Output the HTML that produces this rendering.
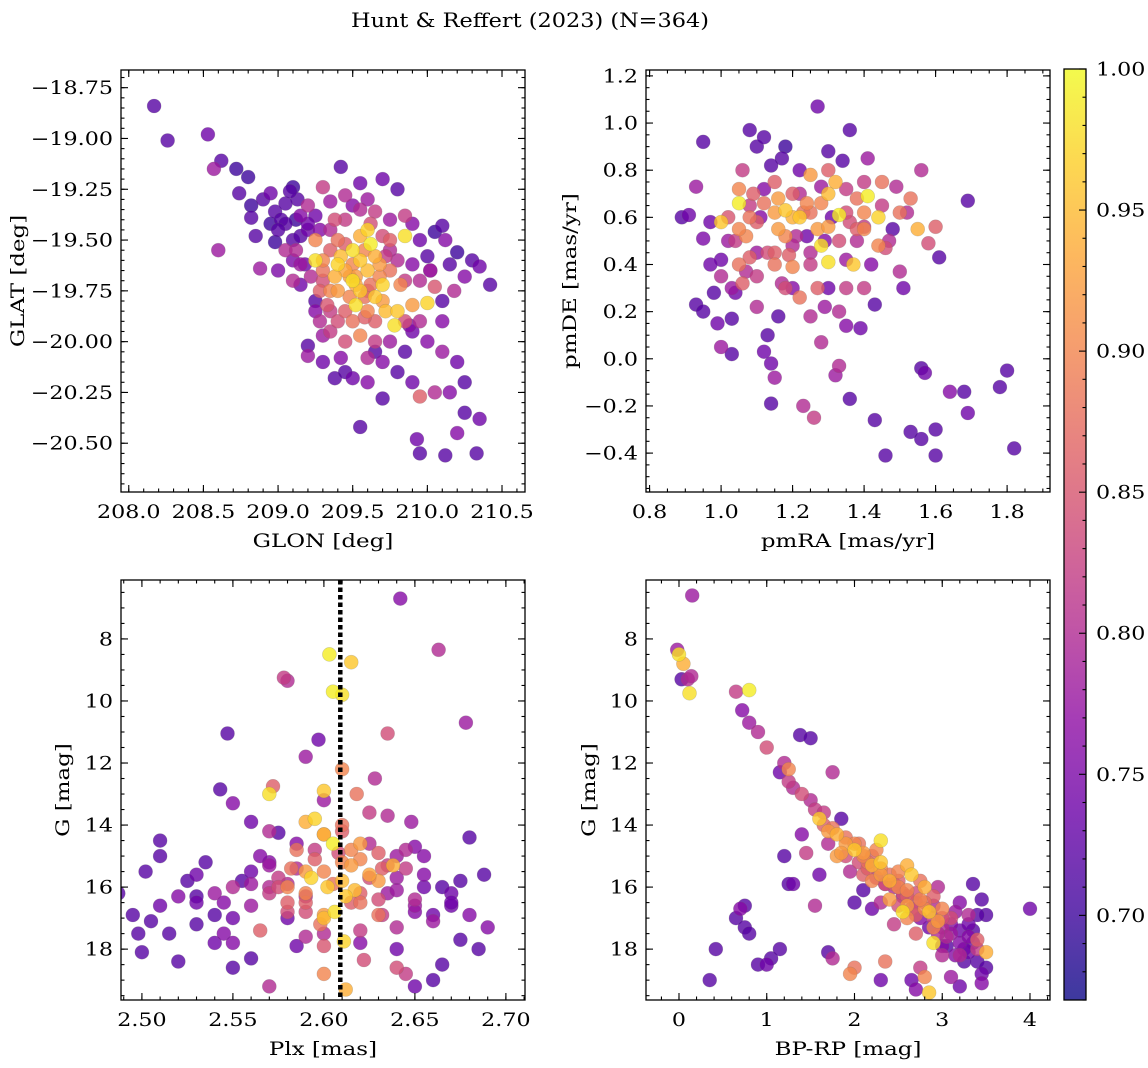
<!DOCTYPE html>
<html><head><meta charset="utf-8">
<style>
html,body{margin:0;padding:0;background:#fff;}
svg{display:block;font-family:"DejaVu Serif","Liberation Serif",serif;}
</style></head>
<body>
<svg id="fig" width="1148" height="1068" viewBox="0 0 1148 1068" xmlns="http://www.w3.org/2000/svg">
<defs>
<linearGradient id="cbgrad" x1="0" y1="1" x2="0" y2="0">
</linearGradient>
</defs>
<text id="title" x="530" y="27" text-anchor="middle" font-size="20">Hunt &amp; Reffert (2023) (N=364)</text>
<g id="root"></g>
</svg>
<script>
// ---- Panel 1 data: GLON, GLAT, probability ----
const p1Glon=[208.17,208.26,208.53,208.57,208.62,208.72,208.74,208.8,208.82,208.85,208.6,208.82,208.95,208.98,208.98,209.02,208.88,209.0,209.1,209.13,209.15,209.1,209.2,209.2,209.25,209.3,209.35,209.42,209.38,209.45,209.5,209.55,209.6,209.65,209.7,209.75,209.8,209.85,209.9,209.95,210.05,210.1,210.12,210.15,210.2,210.3,210.35,210.42,210.25,210.18,210.1,210.05,210.0,209.95,209.9,210.0,210.1,210.2,210.25,210.15,210.05,209.95,209.9,209.8,210.25,210.35,210.2,209.93,209.95,210.12,210.33,209.55,209.7,209.6,209.5,209.38,209.42,209.2,209.2,209.3,209.45,209.55,209.65,209.7,209.65,209.28,209.35,209.25,209.15,209.22,209.1,209.05,209.5,209.55,209.6,209.45,209.5,209.62,209.65,209.4,209.55,209.6,209.7,209.75,209.3,209.25,209.35,209.3,209.4,209.75,209.8,209.85,209.8,209.78,209.9,209.45,209.5,209.55,209.6,209.5,209.25,209.4,209.85,209.7,209.65,209.35,209.45,209.6,209.05,209.12,209.18,209.28,209.48,209.58,209.72,209.88,210.02,209.33,209.52,209.68,
209.3,209.35,209.42,209.48,209.52,209.58,209.62,209.68,209.72,209.58,209.4,209.35,209.2,209.15,209.0,208.95,209.05,209.12,209.28,209.55,209.62,209.75,209.9,210.0,210.02,209.95,209.85,209.75,209.6,209.45,209.3,209.85,210.1,209.15,209.1,208.9,209.08,209.45,209.7,209.38,209.65,209.52,209.82,209.25];
const p1Glat=[-18.84,-19.01,-18.98,-19.15,-19.11,-19.15,-19.27,-19.19,-19.33,-19.48,-19.55,-19.39,-19.27,-19.36,-19.51,-19.4,-19.64,-19.65,-19.24,-19.3,-19.38,-19.5,-19.45,-19.33,-19.38,-19.24,-19.31,-19.14,-19.4,-19.28,-19.33,-19.22,-19.3,-19.36,-19.2,-19.4,-19.25,-19.38,-19.42,-19.5,-19.46,-19.43,-19.5,-19.62,-19.56,-19.6,-19.63,-19.72,-19.68,-19.75,-19.8,-19.73,-19.81,-19.9,-19.95,-20.0,-20.05,-20.1,-20.2,-20.25,-20.25,-20.27,-20.2,-20.15,-20.35,-20.38,-20.45,-20.48,-20.55,-20.56,-20.55,-20.42,-20.28,-20.2,-20.18,-20.18,-20.08,-20.07,-20.02,-19.97,-20.0,-19.97,-20.0,-20.1,-20.05,-19.9,-19.85,-19.8,-19.72,-19.68,-19.6,-19.55,-19.55,-19.6,-19.65,-19.65,-19.7,-19.52,-19.58,-19.75,-19.75,-19.85,-19.8,-19.65,-19.6,-19.5,-19.55,-19.7,-19.5,-19.5,-19.6,-19.7,-19.85,-19.92,-19.82,-19.85,-19.9,-19.48,-19.45,-19.62,-19.6,-19.62,-19.48,-19.72,-19.9,-19.45,-19.4,-19.75,-19.42,-19.55,-19.62,-19.75,-19.68,-19.78,-19.58,-19.92,-19.65,-19.82,-19.72,-19.68,
-19.65,-19.75,-19.58,-19.78,-19.68,-19.55,-19.72,-19.62,-19.85,-19.88,-19.9,-19.95,-19.42,-19.48,-19.45,-19.42,-19.32,-19.4,-19.45,-19.35,-19.42,-19.55,-19.62,-19.58,-19.65,-19.7,-19.9,-20.0,-20.08,-20.15,-20.1,-20.05,-19.9,-19.62,-19.7,-19.3,-19.26,-19.52,-19.48,-19.68,-19.78,-19.82,-19.72,-19.85];
const p1Prob=[.72,.72,.74,.78,.72,.70,.72,.70,.70,.72,.78,.72,.74,.72,.70,.72,.78,.75,.70,.72,.76,.72,.74,.8,.74,.82,.78,.72,.84,.8,.76,.74,.78,.82,.74,.78,.72,.82,.76,.74,.7,.72,.76,.72,.7,.72,.74,.72,.76,.8,.72,.85,.97,.8,.74,.76,.78,.74,.72,.76,.8,.86,.74,.72,.72,.74,.76,.74,.72,.72,.72,.72,.72,.76,.74,.72,.76,.78,.72,.78,.84,.9,.82,.76,.72,.8,.82,.72,.74,.8,.75,.8,.98,.96,.95,.93,.98,.99,.94,.92,.96,.9,.92,.88,.9,.9,.86,.84,.88,.86,.8,.82,.96,.98,.92,.86,.88,.94,.97,.9,.98,.97,.98,.97,.86,.8,.82,.84,.72,.8,.74,.86,.92,.88,.82,.76,.78,.85,.93,.9,
.88,.9,.95,.9,.92,.9,.88,.92,.95,.86,.84,.82,.74,.72,.72,.7,.72,.7,.76,.8,.84,.8,.76,.72,.78,.8,.84,.78,.8,.72,.74,.72,.76,.78,.8,.72,.72,.86,.84,.94,.96,.98,.9,.76];

// ---- Panel 2 data: pmRA, pmDE, probability ----
const p2Pmra=[0.89,0.91,0.93,0.95,0.93,0.95,0.95,0.97,0.98,0.99,1.0,1.0,1.0,1.02,1.03,1.03,1.04,1.04,1.05,1.06,1.07,1.08,1.08,1.09,1.1,1.1,1.11,1.12,1.12,1.13,1.14,1.15,1.14,1.15,1.16,1.17,1.18,1.18,1.19,1.2,1.21,1.22,1.22,1.23,1.24,1.25,1.26,1.27,1.27,1.28,1.28,1.29,1.3,1.3,1.31,1.32,1.33,1.33,1.34,1.35,1.35,1.36,1.36,1.37,1.38,1.39,1.4,1.41,1.41,1.42,1.43,1.43,1.44,1.45,1.46,1.47,1.49,1.5,1.51,1.53,1.53,1.55,1.56,1.56,1.57,1.56,1.58,1.6,1.6,1.6,1.61,1.64,1.68,1.69,1.69,1.78,1.8,1.82,1.5,1.46,1.05,1.12,1.15,1.25,1.32,1.38,1.2,1.27,1.17,1.1,1.07,1.25,1.3,1.22,1.18,1.14,1.33,1.08,1.2,1.28,1.35,0.97,1.02,1.13,1.23,1.29,1.4,1.44,1.52,1.06,1.16,1.36,
1.05,1.1,1.15,1.2,1.25,1.3,1.35,1.4,1.45,1.15,1.25,1.35,1.1,1.2,1.3,1.4,1.05,1.22,1.12,1.3,1.4,1.48,1.03,1.16,1.33,1.0,1.18,1.28,1.38,1.08,1.24,1.44];
const p2Pmde=[0.6,0.61,0.73,0.92,0.23,0.2,0.51,0.58,0.28,0.15,0.05,0.35,0.42,0.6,0.02,0.17,0.28,0.5,0.66,0.8,0.37,0.6,0.97,0.7,0.45,0.9,0.6,0.94,0.03,0.1,-0.02,-0.08,-0.19,0.4,0.55,0.85,0.63,0.3,0.44,0.7,0.52,0.26,0.6,-0.2,0.66,0.4,-0.25,1.07,0.55,0.73,0.07,0.22,0.88,0.41,0.6,-0.07,-0.03,0.61,0.84,0.72,0.3,0.97,-0.17,0.4,0.5,0.13,0.62,0.69,0.85,0.4,0.23,-0.26,0.6,0.75,-0.41,0.5,0.73,0.62,0.3,0.68,-0.31,0.55,0.8,-0.04,-0.06,-0.34,0.49,-0.41,0.56,-0.3,0.43,-0.14,-0.14,-0.23,0.67,-0.12,-0.05,-0.38,0.37,0.47,0.72,0.66,0.75,0.78,0.75,0.55,0.48,0.3,0.32,0.22,0.52,0.18,0.7,0.8,0.9,0.82,0.5,0.43,0.39,0.48,0.14,0.4,0.5,0.45,0.62,0.5,0.56,0.48,0.62,0.32,0.68,0.58,
0.55,0.58,0.62,0.6,0.62,0.56,0.62,0.55,0.65,0.45,0.45,0.42,0.35,0.3,0.3,0.3,0.4,0.7,0.72,0.8,0.75,0.55,0.3,0.18,0.2,0.58,0.52,0.66,0.68,0.65,0.52,0.4];
const p2Prob=[.72,.74,.78,.72,.72,.72,.75,.74,.72,.74,.78,.8,.74,.85,.72,.72,.74,.82,.99,.82,.8,.88,.72,.86,.78,.72,.76,.72,.74,.72,.74,.78,.72,.88,.92,.72,.96,.84,.86,.86,.8,.88,.96,.8,.9,.82,.82,.74,.92,.78,.8,.78,.72,.98,.74,.78,.8,.99,.72,.82,.82,.72,.72,.96,.8,.74,.9,.99,.78,.76,.72,.72,.97,.88,.72,.8,.8,.88,.74,.88,.72,.94,.8,.72,.74,.72,.84,.72,.86,.72,.72,.76,.72,.74,.72,.72,.72,.72,.8,.84,.9,.88,.86,.92,.94,.86,.8,.86,.8,.8,.9,.8,.95,.74,.7,.72,.84,.86,.9,.98,.76,.74,.78,.84,.88,.76,.82,.9,.8,.86,.92,
.84,.9,.86,.92,.94,.88,.92,.84,.9,.82,.86,.8,.78,.82,.76,.74,.82,.88,.8,.76,.86,.82,.72,.78,.72,.8,.96,.9,.9,.88,.82,.74];

// ---- Panel 3 data: Plx, G, probability ----
const p3Plx=[2.487,2.495,2.498,2.5,2.502,2.505,2.51,2.51,2.51,2.515,2.52,2.52,2.525,2.53,2.53,2.535,2.54,2.54,2.543,2.547,2.55,2.55,2.55,2.555,2.56,2.56,2.565,2.57,2.57,2.572,2.575,2.578,2.58,2.58,2.582,2.585,2.585,2.59,2.59,2.59,2.593,2.595,2.597,2.598,2.6,2.6,2.602,2.603,2.605,2.606,2.608,2.61,2.61,2.611,2.612,2.615,2.615,2.618,2.62,2.622,2.625,2.628,2.63,2.632,2.635,2.635,2.638,2.64,2.642,2.645,2.648,2.65,2.655,2.66,2.663,2.665,2.67,2.675,2.678,2.68,2.68,2.685,2.688,2.69,2.66,2.65,2.64,2.57,2.55,2.545,2.6,2.61,2.59,2.62,2.63,2.58,2.57,2.6,2.61,2.62,2.59,2.64,2.65,2.56,2.6,2.58,2.63,2.6,2.595,2.605,2.617,2.625,2.565,2.575,2.585,2.615,2.635,2.645,2.655,2.67,2.53,2.545,2.6,2.57,2.62,2.64,
2.56,2.57,2.575,2.58,2.585,2.59,2.595,2.6,2.605,2.61,2.615,2.62,2.625,2.63,2.635,2.64,2.645,2.65,2.655,2.66,2.57,2.58,2.6,2.62,2.64,2.55,2.54,2.53,2.665,2.67,2.675,2.59,2.61,2.625,2.56,2.65,2.6,2.612,2.59,2.632];
const p3G=[16.2,16.9,17.5,18.1,15.5,17.1,14.5,15.0,16.6,17.5,16.3,18.4,15.8,16.5,17.2,15.2,16.2,17.8,12.85,11.05,13.3,16.0,17.0,15.8,16.6,18.3,17.4,16.2,13.0,12.75,14.25,9.25,9.35,16.8,15.4,14.6,17.9,11.8,13.9,16.3,15.7,14.8,11.25,17.2,13.2,18.8,16.0,8.5,9.7,16.8,14.9,9.8,12.2,17.75,19.3,8.75,15.3,13.0,16.2,18.35,14.6,12.5,15.8,16.9,11.05,13.7,15.3,17.3,6.7,18.8,13.9,16.4,15.0,17.1,8.35,18.5,16.2,17.7,10.7,14.4,16.9,18.0,15.6,17.3,19.0,19.2,18.6,19.2,18.6,17.5,15.5,15.8,16.5,15.1,16.4,15.9,15.2,14.3,14.0,17.4,17.6,15.7,16.8,15.5,17.0,16.0,14.9,12.9,13.8,14.6,16.1,15.6,15.0,16.0,15.4,14.8,16.2,15.4,16.0,16.6,16.3,16.5,17.9,14.2,16.5,15.0,15.9,
16.0,15.7,16.5,14.8,16.2,15.1,16.9,15.9,15.2,16.5,14.6,15.7,16.9,15.3,16.1,14.8,16.6,15.6,16.9,15.3,17.0,17.5,17.8,18.0,17.8,16.9,15.6,16.0,16.5,15.8,16.8,14.2,13.6,13.9,14.7,14.3,16.3,15.5,15.4,16.4];
const p3Prob=[.72,.72,.72,.72,.72,.72,.72,.72,.74,.72,.76,.72,.72,.74,.72,.72,.78,.74,.72,.72,.76,.8,.74,.72,.78,.72,.86,.82,.98,.86,.72,.82,.8,.84,.88,.76,.74,.78,.94,.8,.97,.82,.74,.88,.78,.9,.96,.99,.99,.98,.84,.98,.9,.97,.94,.96,.92,.88,.86,.84,.8,.8,.92,.82,.84,.8,.94,.8,.76,.82,.78,.8,.76,.78,.8,.72,.74,.72,.78,.72,.76,.72,.72,.76,.72,.74,.84,.8,.72,.76,.9,.95,.86,.9,.84,.8,.76,.92,.88,.82,.8,.78,.76,.74,.95,.9,.86,.96,.97,.99,.95,.93,.76,.84,.8,.9,.78,.82,.74,.74,.72,.76,.85,.8,.88,.78,
.78,.8,.82,.86,.88,.9,.86,.92,.88,.9,.86,.92,.84,.88,.82,.78,.8,.78,.76,.74,.78,.74,.8,.76,.74,.76,.72,.74,.72,.74,.72,.84,.86,.82,.74,.76,.94,.96,.92,.86];

// ---- Panel 4 data: BP-RP, G, probability ----
const p4Bprp=[-0.02,0.0,0.05,0.1,0.12,0.14,0.15,0.03,0.65,0.8,0.72,0.8,0.9,1.0,1.2,1.25,1.25,1.3,1.38,1.5,1.4,1.5,1.55,1.6,1.65,1.7,1.75,1.8,1.9,2.0,2.1,2.2,2.3,2.4,2.5,2.6,2.7,2.8,2.9,3.0,3.1,3.2,3.3,3.4,3.45,3.5,3.5,3.45,3.35,4.0,1.6,1.55,1.3,1.25,0.75,0.65,0.7,0.75,0.8,0.42,0.35,0.9,1.0,1.05,1.15,1.7,1.75,1.95,2.0,2.35,2.3,2.65,2.75,2.8,2.85,2.7,2.9,3.0,3.1,3.2,2.0,2.2,2.1,2.3,2.45,2.6,2.7,2.8,2.65,2.55,2.9,3.0,3.1,3.2,3.3,3.35,3.4,3.25,2.4,2.2,2.1,1.9,1.95,2.05,2.25,2.3,2.5,2.75,2.85,2.95,3.05,1.4,1.45,1.2,1.7,1.8,1.85,1.15,2.3,2.6,2.5,3.2,3.35,3.4,3.5,3.45,2.15,2.45,2.55,2.75,2.95,3.15,1.85,2.35,2.7,3.0,
1.9,2.0,2.1,2.2,2.3,2.4,2.5,2.6,2.7,2.8,2.9,3.0,3.1,3.2,3.3,2.45,2.55,2.65,2.75,2.85,2.95,3.05,3.15,3.25,2.35,2.25,2.15,2.05,1.75,1.65,2.6,2.9,3.3,3.4];
const p4G=[8.35,8.5,8.8,9.3,9.75,9.2,6.6,9.3,9.7,9.65,10.3,10.7,11.0,11.5,12.0,12.2,12.6,12.8,11.1,11.2,13.0,13.2,13.5,13.8,14.0,14.2,12.3,14.3,14.6,14.8,15.0,15.3,15.6,15.8,16.0,16.3,16.5,16.7,17.0,17.3,17.5,17.8,18.1,18.4,18.8,18.6,16.9,16.4,15.9,16.7,15.6,16.6,15.9,15.9,16.6,17.0,16.7,17.3,17.5,18.0,19.0,18.5,18.5,18.3,18.0,18.1,18.3,18.8,18.6,18.4,19.0,19.0,18.6,18.9,19.4,19.3,17.8,18.2,18.9,19.2,16.5,16.7,16.1,16.5,17.2,17.0,17.5,16.0,15.6,16.8,16.3,16.7,17.0,16.5,16.9,17.4,17.7,18.4,16.4,15.8,15.6,15.0,15.5,14.6,14.8,15.2,15.5,15.8,16.8,17.1,17.6,14.3,14.9,15.0,14.6,15.0,13.8,12.3,14.5,15.3,16.6,18.2,17.8,18.0,18.1,19.1,15.2,15.9,16.2,16.4,16.0,16.8,14.9,15.9,16.9,17.9,
14.4,14.6,14.9,15.0,15.4,15.6,15.8,16.1,16.2,16.5,16.6,17.0,17.2,17.4,17.6,16.0,16.3,16.7,17.0,17.3,17.5,17.9,18.2,18.0,15.9,15.7,15.4,15.2,14.1,13.6,16.6,17.3,17.2,16.9];
const p4Prob=[.78,.98,.94,.8,.98,.8,.78,.72,.82,.99,.76,.78,.8,.84,.8,.9,.82,.8,.72,.72,.84,.8,.82,.96,.86,.92,.8,.94,.92,.96,.9,.94,.92,.94,.9,.86,.84,.9,.82,.8,.78,.76,.74,.72,.74,.72,.72,.72,.72,.74,.74,.8,.74,.72,.72,.72,.76,.72,.72,.72,.72,.72,.74,.72,.72,.72,.8,.9,.88,.88,.74,.74,.82,.9,.96,.76,.98,.8,.78,.74,.72,.74,.72,.8,.82,.9,.86,.94,.96,.98,.86,.9,.84,.76,.8,.72,.86,.72,.92,.9,.86,.84,.8,.88,.9,.96,.9,.88,.96,.92,.8,.76,.82,.72,.8,.92,.72,.74,.98,.94,.84,.8,.74,.82,.94,.76,.88,.86,.84,.9,.8,.78,.92,.8,.86,.76,
.88,.9,.92,.86,.9,.88,.86,.9,.84,.88,.8,.84,.76,.74,.76,.8,.78,.82,.76,.74,.8,.72,.76,.74,.84,.82,.86,.84,.88,.82,.92,.9,.74,.72];

// ---- Colorbar ticks ----
const cbTicks=[0.70,0.75,0.80,0.85,0.90,0.95,1.00];
const cbMin=0.67, cbMax=1.0;

const NS='http://www.w3.org/2000/svg';
const root=document.getElementById('root');
function mk(tag,attrs,parent){const e=document.createElementNS(NS,tag);for(const k in attrs)e.setAttribute(k,attrs[k]);(parent||root).appendChild(e);return e;}
function widen(t,f){try{const w=t.getComputedTextLength();if(w>0){t.setAttribute('textLength',(w*f).toFixed(1));t.setAttribute('lengthAdjust','spacingAndGlyphs');}}catch(e){}}

const plasma=[[0,13,8,135],[0.1,65,4,157],[0.2,106,0,168],[0.3,143,13,164],[0.4,177,42,144],[0.5,204,71,120],[0.6,225,100,98],[0.7,242,132,75],[0.8,252,166,54],[0.9,252,206,37],[1,240,249,33]];
function rawc(v){let t=(v-cbMin)/(cbMax-cbMin);t=Math.max(0,Math.min(1,t));
  for(let i=1;i<plasma.length;i++){if(t<=plasma[i][0]){const a=plasma[i-1],b=plasma[i];const f=(t-a[0])/(b[0]-a[0]);
    return [1,2,3].map(j=>Math.round(a[j]+(b[j]-a[j])*f));}}
  return [240,249,33];}
function cmap(v){return 'rgb('+rawc(v).join(',')+')';}
function cmapBlend(v){return 'rgb('+rawc(v).map(x=>Math.round(x*0.8+255*0.2)).join(',')+')';}

function fmt(v,d){let s=v.toFixed(d);return s.replace('-','\u2212');}

const TICKF=1.2, LABF=1.24;
function panel(cfg){
  const {name,L,T,W,H,xmin,xmax,ymin,ymax,yinv,xs,ys,ps,xMaj,xMin,yMaj,yMin,xd,yd,xlabel,ylabel}=cfg;
  const g=mk('g',{});
  
  
  const sx=v=>L+(v-xmin)/(xmax-xmin)*W;
  const sy=v=>yinv? T+(v-ymin)/(ymax-ymin)*H : T+H-(v-ymin)/(ymax-ymin)*H;
  const clip=mk('clipPath',{id:'clip-'+name},g);
  mk('rect',{x:L,y:T,width:W,height:H},clip);
  const pts=mk('g',{'clip-path':'url(#clip-'+name+')'},g);
  
  
  const idx=ps.map((p,i)=>i).sort((a,b)=>ps[a]-ps[b]);
  for(const i of idx){
    const c=mk('circle',{cx:sx(xs[i]).toFixed(1),cy:sy(ys[i]).toFixed(1),r:7,fill:cmap(ps[i]),'fill-opacity':0.8,stroke:'rgba(110,110,110,0.3)','stroke-width':0.6},pts);
    
    
  }
  if(cfg.extra)cfg.extra(g,sx,sy);
  const tk=mk('g',{stroke:'#000','stroke-width':1.1},g);
  function ticksX(step,len){const s0=Math.ceil(xmin/step-1e-6);for(let k=s0;k*step<=xmax+1e-9;k++){const x=sx(k*step);
    mk('line',{x1:x,x2:x,y1:T+H,y2:T+H-len},tk);mk('line',{x1:x,x2:x,y1:T,y2:T+len},tk);}}
  function ticksY(step,len){const s0=Math.ceil(ymin/step-1e-6);for(let k=s0;k*step<=ymax+1e-9;k++){const y=sy(k*step);
    mk('line',{x1:L,x2:L+len,y1:y,y2:y},tk);mk('line',{x1:L+W,x2:L+W-len,y1:y,y2:y},tk);}}
  ticksX(xMin,3.5);ticksX(xMaj,7);ticksY(yMin,3.5);ticksY(yMaj,7);
  const fr=mk('rect',{x:L,y:T,width:W,height:H,fill:'none',stroke:'#000','stroke-width':1.3},g);
  
  
  let s0=Math.ceil(xmin/xMaj-1e-6);
  for(let k=s0;k*xMaj<=xmax+1e-9;k++){const v=k*xMaj;const t=mk('text',{x:sx(v),y:T+H+26,'text-anchor':'middle','font-size':18.5},g);t.textContent=fmt(v,xd);
    widen(t,TICKF);}
  s0=Math.ceil(ymin/yMaj-1e-6);
  for(let k=s0;k*yMaj<=ymax+1e-9;k++){const v=k*yMaj;const t=mk('text',{x:L-8,y:sy(v)+6.5,'text-anchor':'end','font-size':18.5},g);t.textContent=fmt(v,yd);
    widen(t,TICKF);}
  const xl=mk('text',{x:L+W/2,y:T+H+55,'text-anchor':'middle','font-size':18.5},g);xl.textContent=xlabel;
  widen(xl,LABF);
  const yx=cfg.ylx, yy=T+H/2;
  const yl=mk('text',{x:yx,y:yy,'text-anchor':'middle','font-size':18.5,transform:'rotate(-90 '+yx+' '+yy+')'},g);yl.textContent=ylabel;
  widen(yl,LABF);
}

widen(document.getElementById('title'),1.12);

panel({name:'position-panel',L:121,T:70,W:404,H:422,xmin:207.948,xmax:210.654,ymin:-20.74,ymax:-18.663,xs:p1Glon,ys:p1Glat,ps:p1Prob,
  xMaj:0.5,xMin:0.1,yMaj:0.25,yMin:0.05,xd:1,yd:2,xlabel:'GLON [deg]',ylabel:'GLAT [deg]',ylx:24});
panel({name:'proper-motion-panel',L:646,T:70,W:404,H:422,xmin:0.79,xmax:1.92,ymin:-0.565,ymax:1.225,xs:p2Pmra,ys:p2Pmde,ps:p2Prob,
  xMaj:0.2,xMin:0.05,yMaj:0.2,yMin:0.05,xd:1,yd:1,xlabel:'pmRA [mas/yr]',ylabel:'pmDE [mas/yr]',ylx:576});
const plxLine=[2.609];
panel({name:'parallax-panel',L:121,T:580,W:404,H:420,xmin:2.4885,xmax:2.7105,ymin:6.1,ymax:19.64,yinv:true,xs:p3Plx,ys:p3G,ps:p3Prob,
  xMaj:0.05,xMin:0.01,yMaj:2,yMin:0.5,xd:2,yd:0,xlabel:'Plx [mas]',ylabel:'G [mag]',ylx:69,
  extra:(g,sx,sy)=>{const l=mk('line',{x1:sx(plxLine[0]),x2:sx(plxLine[0]),y1:580,y2:1000,stroke:'#000','stroke-width':4.5,'stroke-dasharray':'4.5,3'},g);
    }});
panel({name:'cmd-panel',L:646,T:580,W:404,H:420,xmin:-0.376,xmax:4.228,ymin:6.1,ymax:19.64,yinv:true,xs:p4Bprp,ys:p4G,ps:p4Prob,
  xMaj:1,xMin:0.2,yMaj:2,yMin:0.5,xd:0,yd:0,xlabel:'BP-RP [mag]',ylabel:'G [mag]',ylx:595});

const cb=mk('g',{});


const CT=69,CB=1000,CL=1064,CW=22;
const grad=document.getElementById('cbgrad');
for(let i=0;i<=20;i++){const v=cbMin+(cbMax-cbMin)*i/20;mk('stop',{offset:(i/20),'stop-color':cmapBlend(v)},grad);}
mk('rect',{x:CL,y:CT,width:CW,height:CB-CT,fill:'url(#cbgrad)',stroke:'#000','stroke-width':1.3},cb);
const cy=v=>CB-(v-cbMin)/(cbMax-cbMin)*(CB-CT);
for(let k=67;k<=100;k++){const y=cy(k/100);const maj=k%5===0;
  mk('line',{x1:CL+CW,x2:CL+CW-(maj?7:3.5),y1:y,y2:y,stroke:'#000','stroke-width':1.1},cb);}
for(const v of cbTicks){const t=mk('text',{x:CL+CW+10,y:cy(v)+6.5,'font-size':18.5},cb);t.textContent=v.toFixed(2);
  widen(t,TICKF);}
</script>
</body></html>
